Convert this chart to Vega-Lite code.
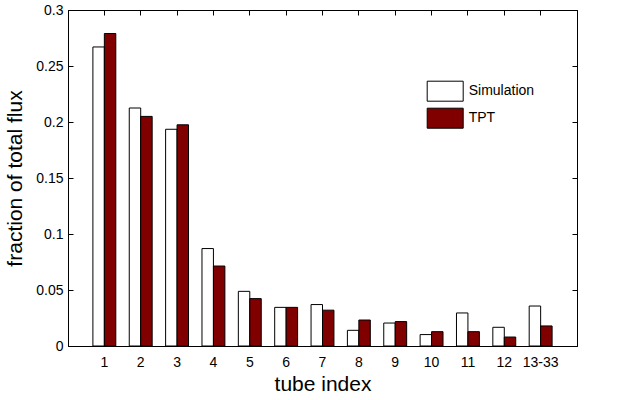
{
  "$schema": "https://vega.github.io/schema/vega-lite/v6.json",
  "autosize": "none",
  "width": 509,
  "height": 336,
  "padding": {"left": 68, "top": 10, "right": 47, "bottom": 54},
  "background": "white",
  "config": {
    "font": "Liberation Sans",
    "view": {"stroke": "black", "strokeWidth": 1},
    "axis": {
      "domainColor": "black",
      "tickColor": "black",
      "labelColor": "black",
      "titleColor": "black",
      "labelFont": "Liberation Sans",
      "titleFont": "Liberation Sans",
      "labelFontSize": 14,
      "titleFontSize": 21,
      "titleFontWeight": "normal",
      "grid": false,
      "tickSize": -5
    }
  },
  "data": {
    "values": [
      {"tube": "1", "series": "Simulation", "value": 0.267},
      {"tube": "1", "series": "TPT", "value": 0.279},
      {"tube": "2", "series": "Simulation", "value": 0.2125},
      {"tube": "2", "series": "TPT", "value": 0.205},
      {"tube": "3", "series": "Simulation", "value": 0.1935},
      {"tube": "3", "series": "TPT", "value": 0.1975},
      {"tube": "4", "series": "Simulation", "value": 0.087},
      {"tube": "4", "series": "TPT", "value": 0.0714},
      {"tube": "5", "series": "Simulation", "value": 0.0488},
      {"tube": "5", "series": "TPT", "value": 0.0423},
      {"tube": "6", "series": "Simulation", "value": 0.0345},
      {"tube": "6", "series": "TPT", "value": 0.0345},
      {"tube": "7", "series": "Simulation", "value": 0.037},
      {"tube": "7", "series": "TPT", "value": 0.032},
      {"tube": "8", "series": "Simulation", "value": 0.014},
      {"tube": "8", "series": "TPT", "value": 0.0232},
      {"tube": "9", "series": "Simulation", "value": 0.0205},
      {"tube": "9", "series": "TPT", "value": 0.0218},
      {"tube": "10", "series": "Simulation", "value": 0.0102},
      {"tube": "10", "series": "TPT", "value": 0.0128},
      {"tube": "11", "series": "Simulation", "value": 0.0295},
      {"tube": "11", "series": "TPT", "value": 0.0128},
      {"tube": "12", "series": "Simulation", "value": 0.0167},
      {"tube": "12", "series": "TPT", "value": 0.008},
      {"tube": "13-33", "series": "Simulation", "value": 0.0357},
      {"tube": "13-33", "series": "TPT", "value": 0.0179}
    ]
  },
  "layer": [
    {
      "mark": {"type": "bar", "stroke": "black", "strokeWidth": 1},
      "encoding": {
        "x": {
          "field": "tube", "type": "nominal", "sort": null,
          "scale": {"paddingInner": 0.37, "paddingOuter": 0.685},
          "axis": {"title": "tube index", "labelAngle": 0, "labelPadding": 14, "titlePadding": 4, "orient": "bottom"}
        },
        "xOffset": {"field": "series", "type": "nominal", "scale": {"padding": 0}},
        "y": {
          "field": "value", "type": "quantitative",
          "scale": {"domain": [0, 0.3], "nice": false},
          "axis": {"title": "fraction of total flux", "format": "~g", "values": [0, 0.05, 0.1, 0.15, 0.2, 0.25, 0.3], "labelPadding": 10, "titlePadding": 10, "orient": "left"}
        },
        "color": {
          "field": "series", "type": "nominal",
          "scale": {"domain": ["Simulation", "TPT"], "range": ["#ffffff", "#800000"]},
          "legend": {
            "title": null,
            "orient": "none",
            "legendX": 366.7,
            "legendY": 70.7,
            "symbolType": "M-1.8,-1H1.8V1H-1.8Z",
            "symbolSize": 400,
            "symbolStrokeColor": "black",
            "symbolStrokeWidth": 1,
            "symbolOpacity": 1,
            "labelFontSize": 14,
            "labelColor": "black",
            "labelFont": "Liberation Sans",
            "rowPadding": 2,
            "labelOffset": 13,
            "padding": 0
          }
        }
      }
    },
    {
      "mark": {"type": "bar", "opacity": 0},
      "encoding": {
        "x": {
          "field": "tube", "type": "nominal", "sort": null,
          "axis": {"title": null, "labels": false, "orient": "top"}
        },
        "y": {
          "field": "value", "type": "quantitative",
          "axis": {"title": null, "labels": false, "orient": "right", "values": [0, 0.05, 0.1, 0.15, 0.2, 0.25, 0.3]}
        }
      }
    }
  ],
  "resolve": {"axis": {"x": "independent", "y": "independent"}}
}
